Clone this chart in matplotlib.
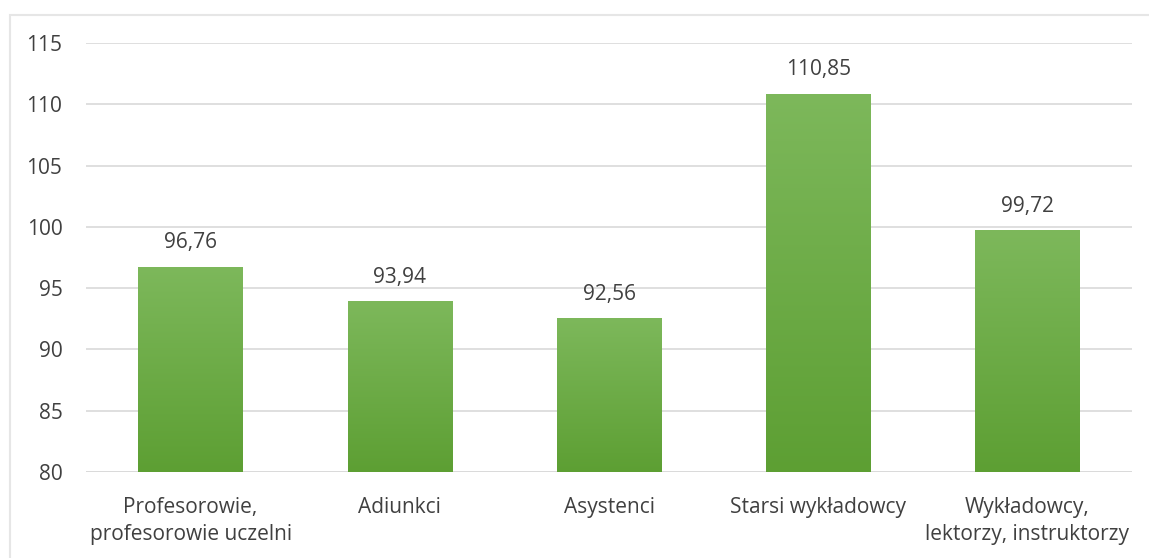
import matplotlib
matplotlib.use('Agg')
import matplotlib.pyplot as plt
import numpy as np
from matplotlib.patches import Rectangle

categories = ['Profesorowie,\nprofesorowie uczelni', 'Adiunkci', 'Asystenci',
              'Starsi wykładowcy', 'Wykładowcy,\nlektorzy, instruktorzy']
values = [96.76, 93.94, 92.56, 110.85, 99.72]
value_labels = ['96,76', '93,94', '92,56', '110,85', '99,72']
yticks = [80, 85, 90, 95, 100, 105, 110, 115]

plt.rcParams['font.family'] = ['Open Sans', 'DejaVu Sans']
text_col = '#404040'
fs = 15

fig = plt.figure(figsize=(11.49, 5.58), dpi=100)
# light chart frame (right and bottom edges fall outside the picture)
fig.patches.append(Rectangle((10 / 1149, -10 / 558), 1160 / 1149, 553 / 558,
                             transform=fig.transFigure, fill=False,
                             edgecolor='#e6e6e6', linewidth=1.5))

ax = fig.add_axes([86 / 1149, 86 / 558, 1046 / 1149, 429 / 558])
x = np.arange(len(categories))
bars = ax.bar(x, [v - 80 for v in values], bottom=80, width=0.5,
              color='#6aab43', zorder=2)

# vertical gradient: lighter top, darker bottom
grad = np.linspace(0, 1, 256).reshape(-1, 1)
cmap = matplotlib.colors.LinearSegmentedColormap.from_list('g', ['#5d9f33', '#7db85b'])
for b in bars:
    x0, y0 = b.get_x(), b.get_y()
    w, h = b.get_width(), b.get_height()
    im = ax.imshow(grad, extent=(x0, x0 + w, y0, y0 + h), origin='lower',
                   cmap=cmap, aspect='auto', zorder=3)
    im.set_clip_path(b)

for xi, v, lab in zip(x, values, value_labels):
    ax.text(xi, v + 1.1, lab, ha='center', va='bottom', fontsize=fs, color=text_col)

ax.set_xlim(-0.5, len(categories) - 0.5)
ax.set_ylim(80, 115)
ax.set_yticks(yticks)
ax.set_xticks(x)
ax.set_xticklabels(categories, fontsize=fs, color=text_col, linespacing=1.4)
ax.tick_params(axis='y', labelsize=fs, labelcolor=text_col, length=0, pad=17)
ax.tick_params(axis='x', length=0, pad=18)
ax.yaxis.grid(True, color='#d9d9d9', linewidth=1.2, zorder=0)
for s in ax.spines.values():
    s.set_visible(False)
ax.axhline(80, color='#d9d9d9', linewidth=1.2, zorder=1)

fig.savefig('out.png', dpi=100)
